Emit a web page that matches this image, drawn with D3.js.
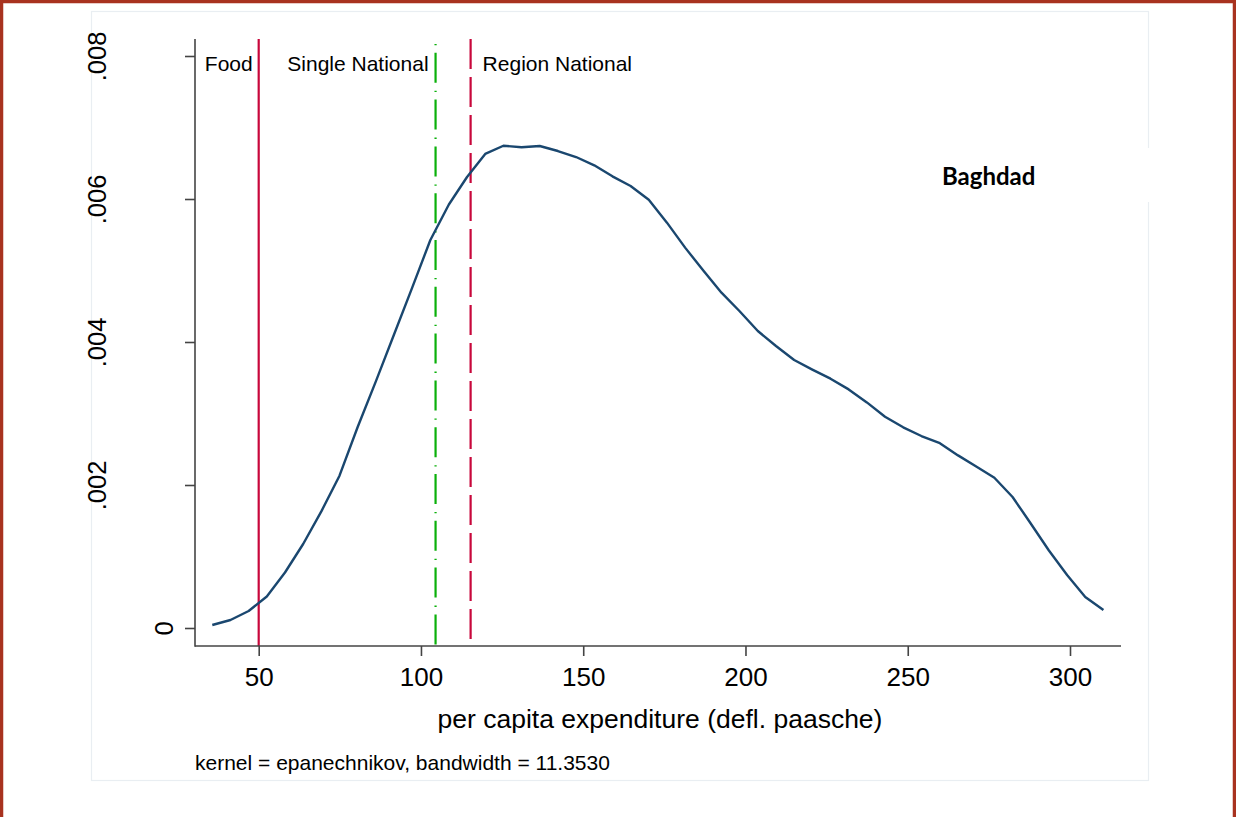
<!DOCTYPE html>
<html><head><meta charset="utf-8">
<script src="https://cdn.jsdelivr.net/npm/d3@7"></script>
<style>
html,body{margin:0;padding:0;background:#fff;}
svg{display:block;}
text{font-family:"Liberation Sans",Arial,sans-serif;fill:#000;}
</style></head>
<body>
<svg id="chart" width="1236" height="817"></svg>
<script>
// ---- data ----
const expenditure = [35.7,41.3,46.9,52.5,58.1,63.7,69.3,74.9,80.5,86.1,91.7,97.3,102.9,108.6,114.2,119.8,125.4,131.0,136.6,142.2,147.8,153.4,159.0,164.6,170.2,175.8,181.4,187.0,192.6,198.2,203.8,209.4,215.0,220.6,226.2,231.8,237.4,243.0,248.6,254.2,259.9,265.5,271.1,276.7,282.3,287.9,293.5,299.1,304.7,310.3];
const density = [0.000042,0.000112,0.000238,0.000441,0.000776,0.001175,0.001631,0.00213,0.002811,0.00345,0.004105,0.00476,0.005427,0.005923,0.006308,0.00663,0.006745,0.006723,0.006741,0.006671,0.006587,0.006471,0.006317,0.006182,0.00599,0.005669,0.00532,0.004999,0.00469,0.00443,0.004154,0.003944,0.003748,0.003614,0.003487,0.003337,0.003155,0.002955,0.002807,0.002685,0.002585,0.002414,0.00226,0.002102,0.001832,0.001462,0.001084,0.000741,0.000434,0.000252];
const povertyLineNames = ["Food","Single National","Region National"];
const povertyLineValues = [50, 104.5, 115.3];
const xTicks = [50,100,150,200,250,300];
const yTicks = [0,0.002,0.004,0.006,0.008];
const yTickLabels = ["0",".002",".004",".006",".008"];
const xTitle = "per capita expenditure (defl. paasche)";
const note = "kernel = epanechnikov, bandwidth = 11.3530";
const regionLabel = "Baghdad";

// ---- layout ----
const svg = d3.select("#chart");
const x = d3.scaleLinear().domain([50,300]).range([258.7,1070]);
const y = d3.scaleLinear().domain([0,0.008]).range([628,56]);
const plotLeft = 195, plotRight = 1121, plotTop = 39, plotBottom = 646;

// outer border (top, left, right)
svg.append("path").attr("d","M1.5,817 L1.5,1.5 L1234.5,1.5 L1234.5,817")
  .attr("fill","none").attr("stroke","#a8321f").attr("stroke-width",3.5);

// faint frame
svg.append("rect").attr("x",91.5).attr("y",11.5).attr("width",1057).attr("height",769)
  .attr("fill","none").attr("stroke","#e9eef2").attr("stroke-width",1.2);

// poverty lines
const lineStyles = [
  {color:"#c8073b", dash:null, top:39},
  {color:"#0ab00a", dash:"1.3,7.5,30,8", top:44},
  {color:"#c8073b", dash:"30,8", top:39}
];
povertyLineValues.forEach((v,i)=>{
  const s = lineStyles[i];
  const l = svg.append("line").attr("x1",x(v)).attr("x2",x(v))
    .attr("y1",s.top).attr("y2",plotBottom)
    .attr("stroke",s.color).attr("stroke-width",2.2);
  if(s.dash) l.attr("stroke-dasharray",s.dash);
});

// line labels
const labelPos = [{x:x(50)-6, anchor:"end"},{x:x(104.5)-7, anchor:"end"},{x:x(115.3)+12, anchor:"start"}];
povertyLineNames.forEach((n,i)=>{
  svg.append("text").attr("x",labelPos[i].x).attr("y",71)
    .attr("text-anchor",labelPos[i].anchor).style("font-size","21px").text(n);
});

// density curve
const pts = expenditure.map((e,i)=>[e,density[i]]);
svg.append("path").datum(pts)
  .attr("d", d3.line().x(d=>x(d[0])).y(d=>y(d[1])))
  .attr("fill","none").attr("stroke","#1a476f").attr("stroke-width",2.4)
  .attr("stroke-linejoin","round");

// axes
const axisColor = "#444";
svg.append("line").attr("x1",plotLeft).attr("x2",plotLeft).attr("y1",plotTop).attr("y2",plotBottom+0.7)
  .attr("stroke",axisColor).attr("stroke-width",1.6);
svg.append("line").attr("x1",plotLeft).attr("x2",plotRight).attr("y1",plotBottom).attr("y2",plotBottom)
  .attr("stroke",axisColor).attr("stroke-width",1.6);

const xAxis = d3.axisBottom(x).tickValues(xTicks).tickSize(10).tickSizeOuter(0).tickPadding(8);
const gx = svg.append("g").attr("transform",`translate(0,${plotBottom})`).call(xAxis);
gx.select(".domain").remove();
gx.selectAll(".tick line").attr("stroke",axisColor).attr("stroke-width",1.6);
gx.selectAll(".tick text").style("font-size","26px").attr("fill","#000")
  .attr("dy",null).attr("y",40);

const yAxis = d3.axisLeft(y).tickValues(yTicks).tickSize(10).tickFormat((d,i)=>yTickLabels[i]);
const gy = svg.append("g").attr("transform",`translate(${plotLeft},0)`).call(yAxis);
gy.select(".domain").remove();
gy.selectAll(".tick line").attr("stroke",axisColor).attr("stroke-width",1.6);
gy.selectAll(".tick text").each(function(d,i){
  const bx = yTickLabels[i].length>1 ? 106-plotLeft : 173-plotLeft;
  d3.select(this).attr("x",null).attr("dy",null).attr("text-anchor","middle")
    .attr("transform",`translate(${bx},0) rotate(-90)`)
    .style("font-size","25.5px").attr("fill","#000");
});

// axis title and note
svg.append("text").attr("x",(plotLeft+plotRight)/2+2).attr("y",728).attr("text-anchor","middle")
  .style("font-size","26.5px").text(xTitle);
svg.append("text").attr("x",195).attr("y",770).style("font-size","21px").text(note);

// region label with white box
svg.append("rect").attr("x",930).attr("y",148).attr("width",230).attr("height",54).attr("fill","#fff");
svg.append("text").attr("x",942).attr("y",185).style("font-family","Lato, 'Open Sans', sans-serif")
  .style("font-weight","bold").style("font-size","24px").text(regionLabel);
</script>
</body></html>
